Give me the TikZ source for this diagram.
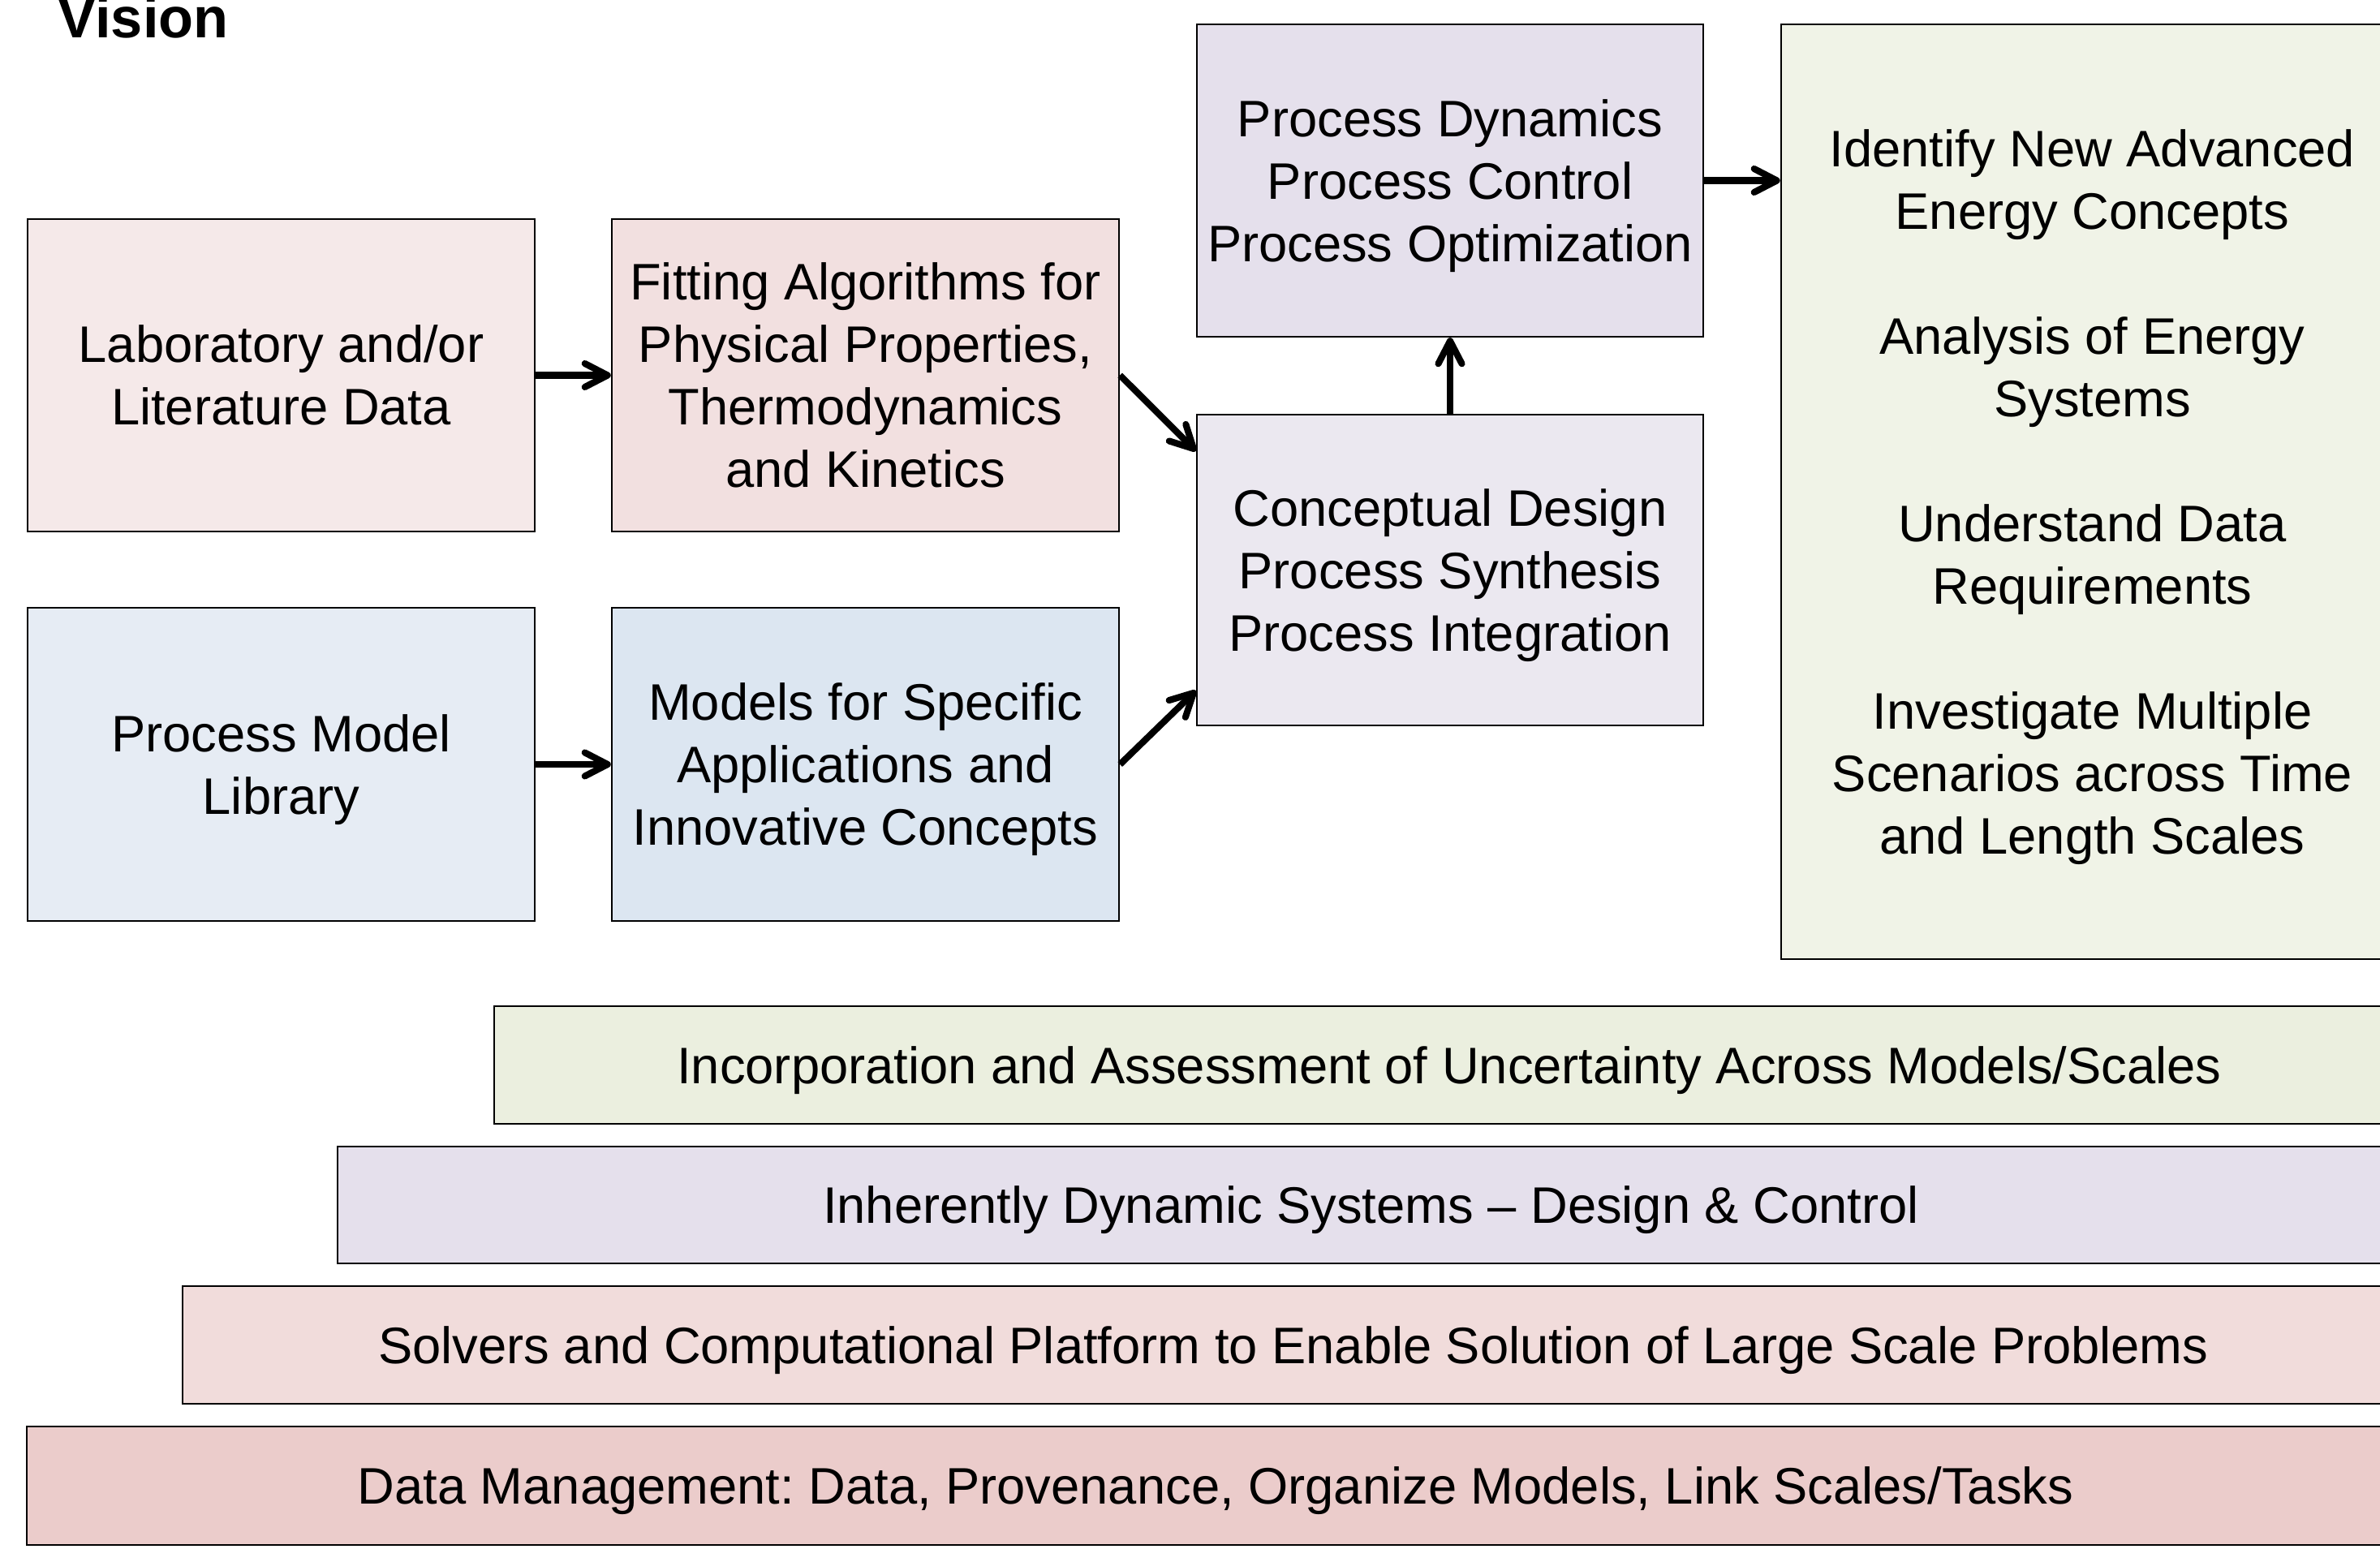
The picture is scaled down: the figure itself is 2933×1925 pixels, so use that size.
\documentclass[tikz,border=0pt]{standalone}
\usepackage{fontspec}
\setmainfont{Liberation Sans}
\usetikzlibrary{arrows.meta}
\frenchspacing

\definecolor{labfill}{HTML}{F5E9E9}
\definecolor{fitfill}{HTML}{F2E0E0}
\definecolor{libfill}{HTML}{E6ECF4}
\definecolor{modfill}{HTML}{DCE6F1}
\definecolor{dynfill}{HTML}{E5E0EC}
\definecolor{desfill}{HTML}{EBE8F0}
\definecolor{goalfill}{HTML}{F0F3E7}
\definecolor{uncfill}{HTML}{EBEFDF}
\definecolor{solvfill}{HTML}{F1DCDB}
\definecolor{datafill}{HTML}{EBCCCB}

\tikzset{
  blk/.style={draw, line width=0.6pt, align=center, inner sep=0pt, text depth=0pt,
    font=\fontsize{18}{21.9}\selectfont},
  box/.style={blk, minimum width=6.25cm, minimum height=3.85cm},
  bar/.style={blk, minimum height=1.45cm},
  flow/.style={-{Straight Barb[length=2.8mm,width=2.9mm,round]}, line width=2.3pt},
}

\begin{document}
\begin{tikzpicture}[x=0.01cm,y=-0.01cm]
% page frame, 1 unit = one pixel of the sheet
\useasboundingbox (0,0) rectangle (2933,1925);
\clip (0,0) rectangle (2933,1925);
\node[anchor=base west, inner sep=0pt, font=\bfseries\fontsize{20}{24}\selectfont] (title) at (71,47) {Vision};
% model building chain
\node[box, fill=labfill] (lab) at (346.5,462.5) {Laboratory and/or\\Literature Data};
\node[box, fill=fitfill] (fit) at (1066.5,462.5) {Fitting Algorithms for\\Physical Properties,\\Thermodynamics\\and Kinetics};
\node[box, fill=libfill] (lib) at (346.5,942) {Process Model\\Library};
\node[box, fill=modfill] (mod) at (1066.5,942) {Models for Specific\\Applications and\\Innovative Concepts};
\node[box, fill=desfill, minimum width=6.24cm, minimum height=3.83cm] (des) at (1787,702.5) {Conceptual Design\\Process Synthesis\\Process Integration};
\node[box, fill=dynfill, minimum width=6.24cm] (dyn) at (1787,222.5) {Process Dynamics\\Process Control\\Process Optimization};
\node[blk, fill=goalfill, minimum width=7.67cm, minimum height=11.52cm] (goal) at (2578.5,606)
  {Identify New Advanced\\Energy Concepts\\[21.9pt]Analysis of Energy\\Systems\\[21.9pt]Understand Data\\Requirements\\[21.9pt]Investigate Multiple\\Scenarios across Time\\and Length Scales};
% arrows
\draw[flow] (lab.east) -- (fit.west);
\draw[flow] (lib.east) -- (mod.west);
\draw[flow] (fit.east) -- ([yshift=-4.6mm]des.north west);
\draw[flow] (mod.east) -- ([yshift=4.4mm]des.south west);
\draw[flow] (des.north) -- (dyn.south);
\draw[flow] (dyn.east) -- (dyn.east -| goal.west);
% supporting layers
\node[bar, fill=uncfill, minimum width=23.52cm] (unc) at (1786,1312.5) {Incorporation and Assessment of Uncertainty Across Models/Scales};
\node[bar, fill=dynfill, minimum width=25.45cm, minimum height=1.44cm] (ctl) at (1689.5,1485) {Inherently Dynamic Systems -- Design \& Control};
\node[bar, fill=solvfill, minimum width=27.36cm] (solv) at (1594,1657.5) {Solvers and Computational Platform to Enable Solution of Large Scale Problems};
\node[bar, fill=datafill, minimum width=29.28cm, minimum height=1.46cm] (data) at (1498,1831) {Data Management: Data, Provenance, Organize Models, Link Scales/Tasks};
\end{tikzpicture}
\end{document}
